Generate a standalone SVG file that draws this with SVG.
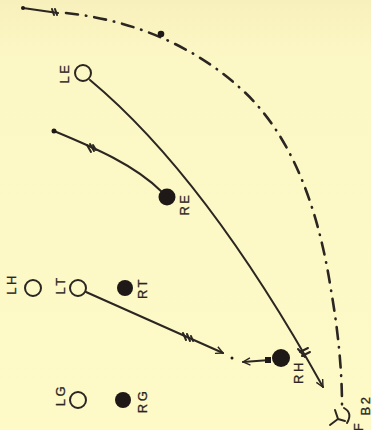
<svg xmlns="http://www.w3.org/2000/svg" width="371" height="430" viewBox="0 0 371 430">
<defs>
<linearGradient id="bg" x1="0" y1="0" x2="0" y2="1">
<stop offset="0" stop-color="#f8f0bc"/>
<stop offset="0.15" stop-color="#fcf8c6"/>
<stop offset="1" stop-color="#fdfac8"/>
</linearGradient>
<marker id="arr" viewBox="0 0 10 10" refX="9" refY="5" markerWidth="9" markerHeight="9" markerUnits="userSpaceOnUse" orient="auto">
<path d="M1,1 L9,5 L1,9" fill="none" stroke="#2b2622" stroke-width="1.6"/>
</marker>
<style>
.ink{stroke:#2b2622;fill:none;stroke-width:2;stroke-linecap:round}
.dd{stroke:#2b2622;fill:none;stroke-width:2.6;stroke-linecap:round;stroke-dasharray:12 8 0.5 8}
.open{fill:none;stroke:#2b2622;stroke-width:2}
.fill{fill:#1e1816}
.lbl{font-family:"Liberation Sans",Arial,sans-serif;font-size:13px;fill:#2b2622;stroke:#2b2622;stroke-width:0.3;letter-spacing:2.5px;text-anchor:middle;dominant-baseline:central}
</style>
</defs>
<rect width="371" height="430" fill="url(#bg)"/>
<g id="connectors">
<path class="ink" d="M23,8 L58,13"/>
<path class="ink" d="M52,9 L54,15 M55,9 L57,15"/>
<path class="dd" d="M66,13 C132,20 192,45 239,87 C288,130 317,200 331,290 C338,330 342,370 342,405"/>
<circle class="fill" cx="161" cy="34" r="3.3"/>
<circle class="fill" cx="23" cy="8" r="2"/>
<path class="ink" d="M90,80 C150,130 230,220 323,387" marker-end="url(#arr)"/>
<path class="ink" d="M300,352 L308,348 M302,356 L310,352 M298,349 L305,357"/>
<path class="ink" d="M54,131 C95,148 135,165 162,192"/>
<circle class="fill" cx="54" cy="131" r="2.5"/>
<path class="ink" d="M87,145 L91,152 M90,144 L94,151 M93,145 L96,150"/>
<path class="ink" d="M86,292 L223,353" marker-end="url(#arr)"/>
<path class="ink" d="M183,333 L186,340 M187,334 L190,341 M191,336 L193,341"/>
<circle class="fill" cx="232" cy="358" r="1.5"/>
<path class="ink" d="M270,360 L243,362" marker-end="url(#arr)"/>
<rect class="fill" x="265" y="357" width="6" height="6"/>
<path class="ink" d="M330,425 L338,419 L335,410 M338,419 L345,421"/>
<path class="ink" d="M344,408 Q353,413 347,423"/>
</g>
<g id="LE"><circle class="open" cx="83" cy="73" r="8"/><text class="lbl" transform="translate(64,73) rotate(-90)">LE</text></g>
<g id="RE"><circle class="fill" cx="167" cy="197" r="8.5"/><text class="lbl" transform="translate(184,204) rotate(-90)">RE</text></g>
<g id="LH"><circle class="open" cx="33" cy="288" r="8"/><text class="lbl" transform="translate(11,284) rotate(-90)">LH</text></g>
<g id="LT"><circle class="open" cx="78" cy="288" r="8"/><text class="lbl" transform="translate(60,285) rotate(-90)">LT</text></g>
<g id="RT"><circle class="fill" cx="125" cy="288" r="8"/><text class="lbl" transform="translate(142,288) rotate(-90)">RT</text></g>
<g id="RH"><circle class="fill" cx="281" cy="358" r="9"/><text class="lbl" transform="translate(298,372) rotate(-90)">RH</text></g>
<g id="LG"><circle class="open" cx="78" cy="400" r="8"/><text class="lbl" transform="translate(60,395) rotate(-90)">LG</text></g>
<g id="RG"><circle class="fill" cx="123" cy="400" r="8"/><text class="lbl" transform="translate(142,401) rotate(-90)">RG</text></g>
<g id="FB"><text class="lbl" transform="translate(365,405) rotate(-90)">B2</text><text class="lbl" transform="translate(358,426) rotate(-90)">F</text></g>
</svg>
